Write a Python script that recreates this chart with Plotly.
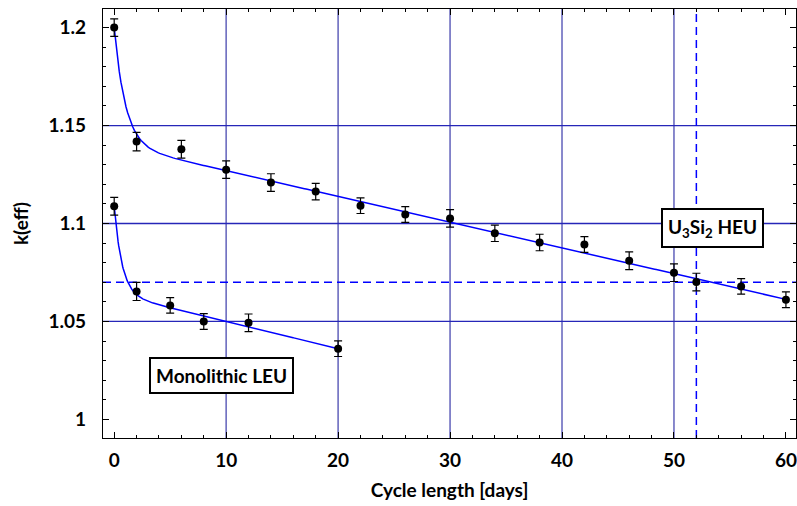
import numpy as np
import plotly.graph_objects as go

# ---- data ----
heu_days = [0, 2, 6, 10, 14, 18, 22, 26, 30, 34, 38, 42, 46, 50, 52, 56, 60]
heu_keff = [1.2000, 1.1418, 1.1379, 1.1275, 1.1209, 1.1163, 1.1091, 1.1046,
            1.1026, 1.0950, 1.0903, 1.0893, 1.0810, 1.0749, 1.0701, 1.0679, 1.0611]
heu_err = [0.0045, 0.0047, 0.0045, 0.0045, 0.0045, 0.0042, 0.0040, 0.0040,
           0.0045, 0.0042, 0.0042, 0.0040, 0.0045, 0.0045, 0.0045, 0.0040, 0.0040]

leu_days = [0, 2, 5, 8, 12, 20]
leu_keff = [1.1088, 1.0653, 1.0582, 1.0500, 1.0493, 1.0361]
leu_err = [0.0045, 0.0046, 0.0040, 0.0040, 0.0045, 0.0040]

# fit parameters: k = a + b*t + c*exp(-t/tau)
heu_fit = dict(a=1.1401, b=-0.001314, c=0.0599, tau=1.0, tmax=60)
leu_fit = dict(a=1.0639, b=-0.00139, c=0.0449, tau=0.70, tmax=20)

v_grid = [10, 20, 30, 40, 50]
h_grid = [1.05, 1.10, 1.15]
k_target = 1.07
t_target = 52

y_tickvals = [1.0, 1.05, 1.1, 1.15, 1.2]
y_ticktext = ["1", "1.05", "1.1", "1.15", "1.2"]
x_tickvals = [0, 10, 20, 30, 40, 50, 60]

FONT = "Lato"

fig = go.Figure()

# grid lines
for xv in v_grid:
    fig.add_vline(x=xv, line=dict(color="rgba(70,70,175,0.8)", width=1.6), layer="below")
for yv in h_grid:
    fig.add_hline(y=yv, line=dict(color="#2626b8", width=1.3), layer="below")
fig.add_hline(y=k_target, line=dict(color="#0000ff", width=1.5, dash="8px,5px"), layer="below")
fig.add_vline(x=t_target, line=dict(color="#0000ff", width=1.5, dash="8px,5px"), layer="below")

def fit_curve(p):
    t = np.linspace(0, p["tmax"], 400)
    return t, p["a"] + p["b"] * t + p["c"] * np.exp(-t / p["tau"])

for p in (heu_fit, leu_fit):
    t, k = fit_curve(p)
    fig.add_trace(go.Scatter(x=t, y=k, mode="lines", line=dict(color="#0000ff", width=1.5),
                             hoverinfo="skip", showlegend=False))

for xs, ys, es in ((heu_days, heu_keff, heu_err), (leu_days, leu_keff, leu_err)):
    fig.add_trace(go.Scatter(
        x=xs, y=ys, mode="markers",
        marker=dict(color="black", size=8),
        error_y=dict(type="data", array=es, visible=True, color="black", thickness=1.2, width=4),
        showlegend=False))

box = dict(showarrow=False, bgcolor="white", bordercolor="black", borderwidth=2,
           font=dict(family=FONT, size=19, color="black", weight="bold"), borderpad=5)
fig.add_annotation(x=9.6, y=1.0226, text="Monolithic LEU", **box)
fig.add_annotation(x=53.4, y=1.0975, text="U<sub>3</sub>Si<sub>2</sub> HEU", **box)

fig.update_layout(
    width=797, height=506,
    margin=dict(l=103, r=1, t=9, b=68),
    paper_bgcolor="white", plot_bgcolor="white",
    font=dict(family=FONT, size=19, color="black"),
    showlegend=False,
)
fig.update_xaxes(
    range=[-1, 60.9], showgrid=False, zeroline=False,
    tickvals=x_tickvals, ticks="inside", ticklen=6, tickwidth=1, tickcolor="black",
    minor=dict(dtick=2, ticks="inside", ticklen=3, tickcolor="black", showgrid=False),
    showline=True, linecolor="black", linewidth=1.2, mirror="ticks",
    ticklabelstandoff=5,
    title=dict(text="Cycle length [days]", font=dict(family=FONT, size=19, weight="bold"), standoff=13),
    tickfont=dict(family=FONT, size=19, weight="bold"),
)
fig.update_yaxes(
    range=[0.9905, 1.2095], showgrid=False, zeroline=False,
    tickvals=y_tickvals, ticktext=y_ticktext, ticks="inside", ticklen=6, tickwidth=1, tickcolor="black",
    minor=dict(dtick=0.01, tick0=1.0, ticks="inside", ticklen=3, tickcolor="black", showgrid=False),
    showline=True, linecolor="black", linewidth=1.2, mirror="ticks",
    ticklabelstandoff=12,
    title=dict(text="k(eff)", font=dict(family=FONT, size=19, weight="bold"), standoff=14),
    tickfont=dict(family=FONT, size=19, weight="bold"),
)

fig.write_html("out.html")
